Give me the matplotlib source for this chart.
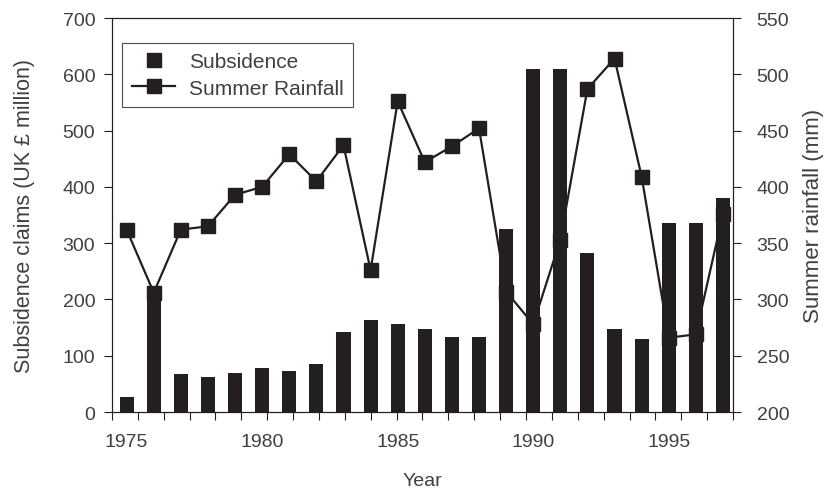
import matplotlib
matplotlib.use('Agg')
import matplotlib.pyplot as plt
from matplotlib.lines import Line2D
import numpy as np

years = list(range(1975, 1998))
subsidence = [26, 210, 67, 63, 70, 79, 72, 85, 143, 163, 156, 147, 134, 134,
              326, 610, 610, 282, 147, 130, 335, 335, 381]
rainfall = [362, 306, 362, 365, 393, 400, 429, 405, 437, 326, 476, 422, 436, 452,
            307, 278, 353, 487, 514, 409, 266, 269, 376]
year_labels = [1975, 1980, 1985, 1990, 1995]

INK = '#231f20'
TEXT = '#404040'
TICK_FONT = 14
LABEL_FONT = 15.5


def style_axis(ax):
    for side in ['left', 'right', 'top', 'bottom']:
        ax.spines[side].set_color(INK)
        ax.spines[side].set_linewidth(0.8)
    ax.tick_params(colors=INK, labelcolor=TEXT, labelsize=TICK_FONT, width=0.8)


def main():
    plt.rcParams['font.family'] = ['Liberation Sans', 'DejaVu Sans']

    fig = plt.figure(figsize=(8.29, 4.89), dpi=100)
    ax1 = fig.add_axes([0.1351, 0.1554, 0.7491, 0.8057])

    ax1.bar(years, subsidence, width=0.52, color=INK, zorder=2)
    ax1.set_ylim(0, 700)
    ax1.set_yticks(range(0, 701, 100))
    ax1.set_xlim(1974.46, 1997.37)

    # year labels sit under their bars, the tick marks are evenly spread
    ax1.set_xticks(year_labels)
    ax1.set_xticks(np.linspace(1974.46, 1997.37, 25), minor=True)
    ax1.tick_params(axis='x', which='major', length=0, pad=15)
    ax1.tick_params(axis='x', which='minor', length=6, width=0.8, color=INK)
    ax1.tick_params(axis='y', length=6, pad=6)
    style_axis(ax1)

    ax1.set_xlabel('Year', fontsize=TICK_FONT, color=TEXT, labelpad=16)
    ax1.set_ylabel('Subsidence claims (UK £ million)', fontsize=LABEL_FONT,
                   color=TEXT, labelpad=20)

    ax2 = ax1.twinx()
    ax2.plot(years, rainfall, color=INK, lw=1.6, marker='s', ms=10.5, zorder=3)
    ax2.set_ylim(200, 550)
    ax2.set_yticks(range(200, 551, 50))
    ax2.tick_params(axis='y', length=6, pad=11)
    style_axis(ax2)
    ax2.set_ylabel('Summer rainfall (mm)', fontsize=16, color=TEXT, labelpad=10)

    bar_key = Line2D([], [], color=INK, marker='s', ms=10.5, ls='none')
    line_key = Line2D([], [], color=INK, marker='s', ms=10.5, lw=1.6)
    leg = ax2.legend([bar_key, line_key], ['Subsidence', 'Summer Rainfall'],
                     loc='upper left', bbox_to_anchor=(0.0166, 0.937),
                     borderaxespad=0, fancybox=False, fontsize=15,
                     handlelength=2.1, handletextpad=0.65, labelspacing=0.35,
                     borderpad=0.45)
    leg.get_frame().set_edgecolor(INK)
    leg.get_frame().set_linewidth(0.8)
    for t in leg.get_texts():
        t.set_color(TEXT)

    fig.savefig('out.png', dpi=100)


if __name__ == '__main__':
    main()
